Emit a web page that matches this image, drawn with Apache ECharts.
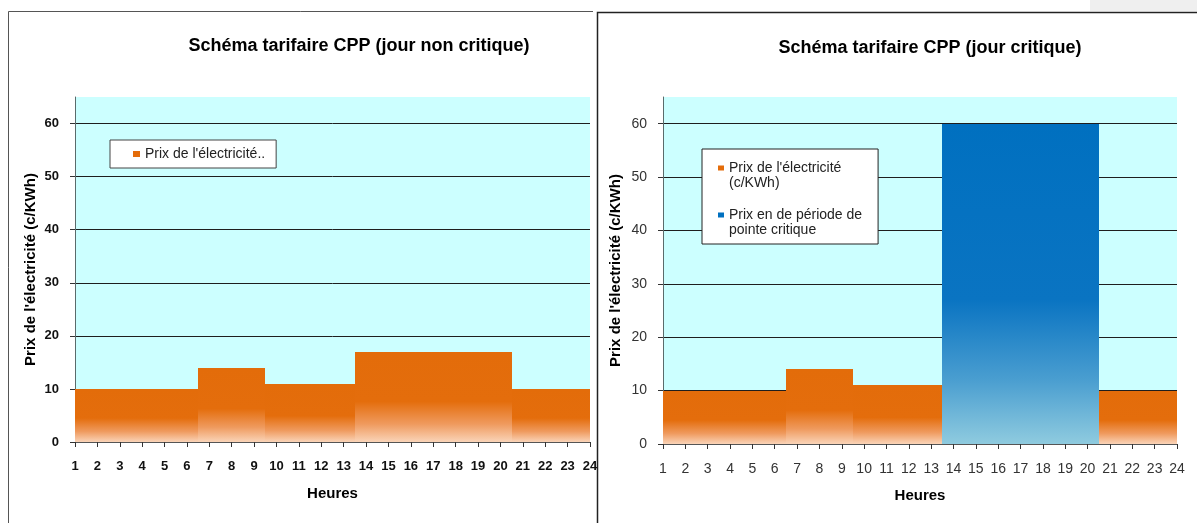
<!DOCTYPE html>
<html lang="fr">
<head>
<meta charset="utf-8">
<title>Schéma tarifaire CPP</title>
<script src="https://cdn.jsdelivr.net/npm/echarts@6/dist/echarts.min.js"></script>
<style>
  html, body { margin: 0; padding: 0; background: #fff; }
  #chart { width: 1197px; height: 523px; }
</style>
</head>
<body>
<div id="chart"></div>
<script>
// Heures de la journée (axe des abscisses)
const hours = [1, 2, 3, 4, 5, 6, 7, 8, 9, 10, 11, 12, 13, 14, 15, 16, 17, 18, 19, 20, 21, 22, 23, 24];

// Jour non critique : prix horaire (c/KWh)
const prixJourNonCritique = [10, 10, 10, 10, 10, 10, 14, 14, 14, 11, 11, 11, 11, 17, 17, 17, 17, 17, 17, 17, 10, 10, 10, 10];

// Jour critique : prix hors pointe et prix de pointe critique (c/KWh)
const prixJourCritique = [10, 10, 10, 10, 10, 10, 14, 14, 14, 11, 11, 11, 11, null, null, null, null, null, null, null, 10, 10, 10, 10];
const prixPointeCritique = [null, null, null, null, null, null, null, null, null, null, null, null, null, 60, 60, 60, 60, 60, 60, 60, null, null, null, null];

// Graduations de l'axe des prix
const yTicks = [0, 10, 20, 30, 40, 50, 60];

const NOM_PRIX = "Prix de l'électricité (c/KWh)";
const NOM_POINTE = 'Prix en de période de pointe critique';

const FONT = '"Liberation Sans", Arial, sans-serif';
const HOUR_MIN = hours[0];
const HOUR_MAX = hours[hours.length - 1];

const gradOrange = new echarts.graphic.LinearGradient(0, 0, 0, 1, [
  { offset: 0, color: '#E36C0A' },
  { offset: 0.55, color: '#E46D0C' },
  { offset: 0.8, color: '#EF9A5E' },
  { offset: 1, color: '#FAD4B8' }
]);
const gradBleu = new echarts.graphic.LinearGradient(0, 0, 0, 1, [
  { offset: 0, color: '#0070C0' },
  { offset: 0.55, color: '#0A74C2' },
  { offset: 0.8, color: '#4A9ED0' },
  { offset: 1, color: '#8FCBDF' }
]);

function toPoints(values) {
  return hours.map((h, i) => [h, values[i]]).filter(d => d[1] != null);
}

// Each hour is a block spanning half an hour on either side, clamped to the axis range
function blockRenderer(fill) {
  return function (params, api) {
    const h = api.value(0);
    const v = api.value(1);
    const pTop = api.coord([Math.max(HOUR_MIN, h - 0.5), v]);
    const pBot = api.coord([Math.min(HOUR_MAX, h + 0.5), 0]);
    const x0 = Math.round(pTop[0]);
    const x1 = Math.round(pBot[0]);
    const y0 = Math.round(pTop[1]);
    const y1 = Math.round(pBot[1]);
    return {
      type: 'rect',
      shape: { x: x0, y: y0, width: x1 - x0, height: y1 - y0 },
      style: { fill: fill }
    };
  };
}

function xAxisFor(gridIndex, labelStyle) {
  return {
    type: 'value',
    gridIndex: gridIndex,
    min: HOUR_MIN,
    max: HOUR_MAX,
    interval: 1,
    name: 'Heures',
    nameLocation: 'middle',
    nameGap: 44,
    nameTextStyle: { fontFamily: FONT, fontSize: 15, fontWeight: 'bold', color: '#000' },
    axisLine: { show: true, lineStyle: { color: '#555', width: 1 } },
    axisTick: { show: true, length: 5, inside: false, lineStyle: { color: '#333' } },
    axisLabel: Object.assign({ margin: 18, fontFamily: FONT }, labelStyle),
    splitLine: { show: false }
  };
}

function yAxisFor(gridIndex, nameGap, labelStyle) {
  return {
    type: 'value',
    gridIndex: gridIndex,
    min: 0,
    max: 65,
    interval: 10,
    name: NOM_PRIX,
    nameLocation: 'middle',
    nameGap: nameGap,
    nameTextStyle: { fontFamily: FONT, fontSize: 15, fontWeight: 'bold', color: '#000' },
    axisLine: { show: true, lineStyle: { color: '#5a6b6b', width: 1 } },
    axisTick: { show: true, length: 5, customValues: yTicks, lineStyle: { color: '#333' } },
    axisLabel: Object.assign({
      margin: 16,
      customValues: yTicks,
      fontFamily: FONT,
      formatter: v => (yTicks.indexOf(v) >= 0 ? String(v) : '')
    }, labelStyle),
    splitLine: {
      show: true,
      lineStyle: {
        color: ['#1e1e1e', '#1e1e1e', '#1e1e1e', '#1e1e1e', '#1e1e1e', '#1e1e1e', '#1e1e1e', 'rgba(0,0,0,0)'],
        width: 1
      }
    }
  };
}

// Legend marker sitting on the first line of a two-line label
const ICON_DEUX_LIGNES = 'path://M0,0h0.01v0.01h-0.01Z M0,5.5h6v5h-6Z M0,30.99h0.01v0.01h-0.01Z';

const option = {
  animation: false,
  backgroundColor: '#fff',
  title: [
    {
      text: 'Schéma tarifaire CPP (jour non critique)',
      left: 354, top: 32, textAlign: 'center',
      textStyle: { fontFamily: FONT, fontSize: 18, fontWeight: 'bold', color: '#000' }
    },
    {
      text: 'Schéma tarifaire CPP (jour critique)',
      left: 925, top: 34, textAlign: 'center',
      textStyle: { fontFamily: FONT, fontSize: 18, fontWeight: 'bold', color: '#000' }
    }
  ],
  legend: [
    {
      left: 110, top: 140,
      orient: 'vertical',
      padding: [7, 11, 7, 23],
      backgroundColor: '#fff',
      borderColor: '#444', borderWidth: 1,
      itemWidth: 7, itemHeight: 6,
      selectedMode: false,
      data: [{ name: NOM_PRIX, icon: 'rect', itemStyle: { color: '#E46C0A' } }],
      formatter: () => "Prix de l'électricité..",
      textStyle: { fontFamily: FONT, fontSize: 14, color: '#222' }
    },
    {
      left: 702, top: 149,
      orient: 'vertical',
      padding: [11, 16, 6, 16],
      backgroundColor: '#fff',
      borderColor: '#222', borderWidth: 1,
      itemWidth: 6, itemHeight: 31,
      itemGap: 16,
      selectedMode: false,
      data: [
        { name: NOM_PRIX, icon: ICON_DEUX_LIGNES, itemStyle: { color: '#E46C0A' } },
        { name: NOM_POINTE, icon: ICON_DEUX_LIGNES, itemStyle: { color: '#0070C0' } }
      ],
      formatter: name => (name === NOM_PRIX ? "Prix de l'électricité\n(c/KWh)" : 'Prix en de période de\npointe critique'),
      textStyle: { fontFamily: FONT, fontSize: 14, lineHeight: 15.5, color: '#222' }
    }
  ],
  grid: [
    { left: 75, right: 607, top: 97, bottom: 81, show: true, backgroundColor: '#CCFFFF', borderWidth: 0 },
    { left: 663, right: 20, top: 97, bottom: 79, show: true, backgroundColor: '#CCFFFF', borderWidth: 0 }
  ],
  xAxis: [
    xAxisFor(0, { fontSize: 13, fontWeight: 'bold', color: '#111' }),
    xAxisFor(1, { fontSize: 14, color: '#333' })
  ],
  yAxis: [
    yAxisFor(0, 37, { fontSize: 13, fontWeight: 'bold', color: '#111' }),
    yAxisFor(1, 40, { fontSize: 14, color: '#333' })
  ],
  series: [
    {
      name: NOM_PRIX,
      type: 'custom',
      xAxisIndex: 0, yAxisIndex: 0,
      itemStyle: { color: '#E46C0A' },
      renderItem: blockRenderer(gradOrange),
      data: toPoints(prixJourNonCritique)
    },
    {
      name: NOM_PRIX,
      type: 'custom',
      xAxisIndex: 1, yAxisIndex: 1,
      itemStyle: { color: '#E46C0A' },
      renderItem: blockRenderer(gradOrange),
      data: toPoints(prixJourCritique)
    },
    {
      name: NOM_POINTE,
      type: 'custom',
      xAxisIndex: 1, yAxisIndex: 1,
      itemStyle: { color: '#0070C0' },
      renderItem: blockRenderer(gradBleu),
      data: toPoints(prixPointeCritique)
    }
  ],
  graphic: [
    // cadres des deux graphiques
    { type: 'polyline', silent: true, shape: { points: [[8.5, 523], [8.5, 11.5], [593, 11.5]] }, style: { fill: null, stroke: '#555', lineWidth: 1 } },
    { type: 'polyline', silent: true, shape: { points: [[597.5, 523], [597.5, 12.5], [1197, 12.5]] }, style: { fill: null, stroke: '#222', lineWidth: 1.5 } },
    { type: 'rect', silent: true, shape: { x: 1090, y: 0, width: 107, height: 11 }, style: { fill: '#EFEFEF' } }
  ]
};

const chart = echarts.init(document.getElementById('chart'), null, { renderer: 'canvas' });
chart.setOption(option);
</script>
</body>
</html>
